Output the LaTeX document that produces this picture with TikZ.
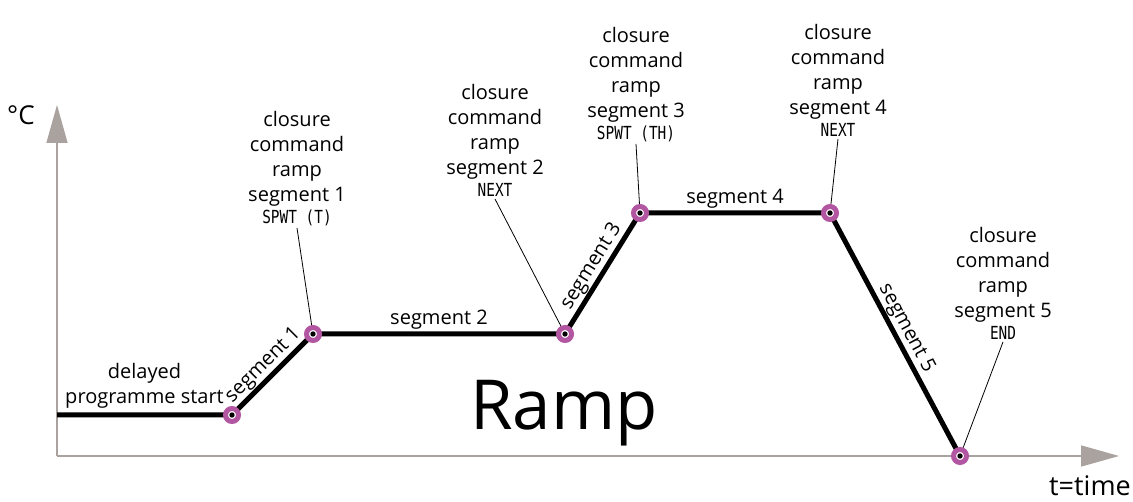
\documentclass[tikz,border=0pt]{standalone}
\usepackage{fontspec}
\setmainfont{Open Sans}
\newfontfamily\codefont[FakeStretch=0.8]{DejaVu Sans Mono}
\usetikzlibrary{arrows.meta}
\definecolor{axisgray}{RGB}{170,162,158}
\definecolor{ringmag}{RGB}{178,86,162}
\begin{document}
\begin{tikzpicture}[x=1pt,y=-1pt,
  lbl/.style={font=\fontsize{20}{25}\selectfont, inner sep=3pt},
  callout/.style={lbl, align=center, anchor=south, inner sep=2pt},
  axis/.style={draw=axisgray, line width=1.6pt, -{Triangle[length=38pt,width=21pt]}},
  profile/.style={line width=5pt, line join=round},
  ring/.style={circle, draw=ringmag, line width=5pt, fill=white, minimum size=13pt, inner sep=0pt},
  leader/.style={line width=0.8pt},
  ]
\useasboundingbox (0,0) rectangle (1133,502);
% axes
\coordinate (o) at (57,456);
\coordinate (ytip) at (57,105);
\coordinate (xtip) at (1119,456);
\draw[axis] (o) -- (ytip);
\draw[axis] (o) -- (xtip);
\node[lbl, font=\fontsize{26}{30}\selectfont, anchor=base, inner sep=0pt] (degc) at (21,125) {°C};
\node[lbl, font=\fontsize{27}{30}\selectfont, anchor=base east, inner sep=0pt] (ttime) at (1131,495) {t=time};
% profile points
\coordinate (s) at (57,415);
\coordinate (q0) at (232,415);
\coordinate (q1) at (313,334);
\coordinate (q2) at (565,334);
\coordinate (q3) at (640,213);
\coordinate (q4) at (830,213);
\coordinate (q5) at (960,456);
\draw[profile] (s) -- (q0) -- (q1) -- (q2) -- (q3) -- (q4) -- (q5);
% segment labels
\path (s) -- node[lbl, above, align=center, inner sep=6pt] (dps) {delayed\\programme start} (q0);
\path (q0) -- node[lbl, sloped, above] (sg1) {segment 1} (q1);
\path (q1) -- node[lbl, above, inner sep=4pt] (sg2) {segment 2} (q2);
\path (q2) -- node[lbl, sloped, above] (sg3) {segment 3} (q3);
\path (q3) -- node[lbl, above, inner sep=4pt] (sg4) {segment 4} (q4);
\path (q4) -- node[lbl, sloped, above] (sg5) {segment 5} (q5);
% big title
\node[font=\fontsize{69}{80}\selectfont, anchor=base, inner sep=0pt] (ramp) at (564,430) {Ramp};
% callouts
\newcommand{\codetxt}[1]{{\codefont\fontsize{18}{20}\selectfont #1}}
\node[callout] (c1) at (297,228) {closure\\command\\ramp\\segment 1\\[-3pt]\codetxt{SPWT (T)}};
\node[callout] (c2) at (495,199) {closure\\command\\ramp\\segment 2\\[-3pt]\codetxt{NEXT}};
\node[callout] (c3) at (636,144) {closure\\command\\ramp\\segment 3\\[-3pt]\codetxt{SPWT (TH)}};
\node[callout] (c4) at (838,139) {closure\\command\\ramp\\segment 4\\[-3pt]\codetxt{NEXT}};
\node[callout] (c5) at (1003,342) {closure\\command\\ramp\\segment 5\\[-3pt]\codetxt{END}};
\draw[leader] (c1.south) -- (q1);
\draw[leader] (c2.south) -- (q2);
\draw[leader] (c3.south) -- (q3);
\draw[leader] (c4.south) -- (q4);
\draw[leader] (c5.south) -- (q5);
% rings
\foreach \p in {q0,q1,q2,q3,q4,q5}{
  \node[ring] (r\p) at (\p) {};
  \fill (\p) circle (2.7pt);
}
\end{tikzpicture}
\end{document}
